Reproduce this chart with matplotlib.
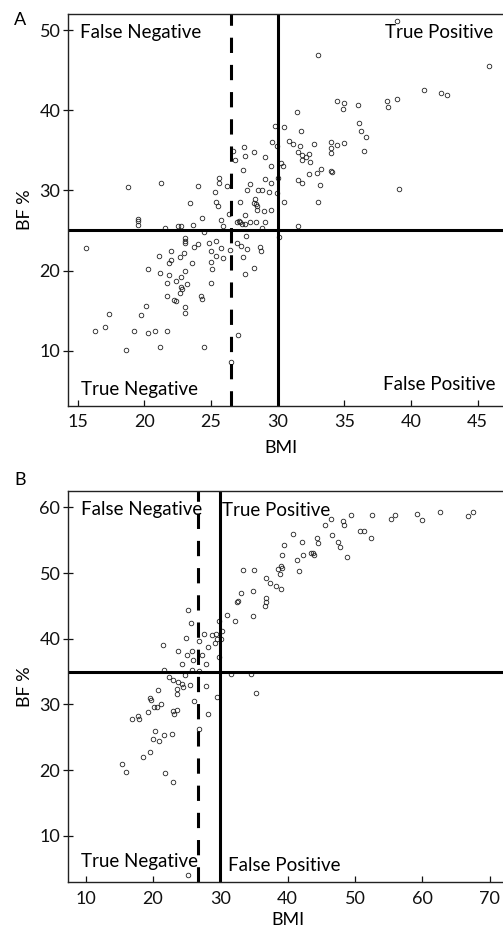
import numpy as np
import matplotlib
matplotlib.use("Agg")
import matplotlib.pyplot as plt

plt.rcParams["font.family"] = ["Lato", "DejaVu Sans"]

# Panel A (BMI vs BF %)
bmi_a = [18.75, 21.25, 24.05, 23.43, 24.35, 25.3, 25.63, 25.63, 26.18, 25.38, 25.55, 26.35, 25.75, 25.88,
         26.63, 26.78, 27.48, 27.55, 28.2, 27.38, 27.95, 27.73, 29.08, 29.55, 29.83, 30.45, 29.5, 29.05,
         29.48, 30.03, 28.5, 28.85, 29.35, 29.98, 29.93, 27.18, 28.28, 28.35, 28.43, 28.2, 28.48, 28.98,
         29.48, 27.53, 30.45, 30.23, 30.38, 31.43, 31.75, 30.83, 31.13, 31.55, 31.7, 31.85, 31.8, 32.13,
         32.38, 32.4, 32.73, 31.53, 31.83, 32.38, 32.95, 33.25, 33.15, 33.05, 33.05, 34.43, 35.0, 34.88,
         34.0, 34.0, 34.0, 34.48, 34.98, 34.0, 34.05, 36.05, 36.13, 36.23, 36.65, 36.45, 38.2, 38.3, 38.93,
         38.93, 39.13, 40.95, 42.25, 42.68, 45.88,
         19.5, 19.5, 19.5, 21.55, 22.53, 22.75, 23.68, 26.93, 27.08, 27.18, 27.33, 27.55, 27.93, 28.38,
         29.05, 28.8, 31.55, 24.48, 30.08,
         15.6, 20.25, 21.08, 21.18, 21.98, 21.98, 21.88, 21.68, 21.85, 21.73, 22.68, 22.95, 22.38, 22.75,
         23.03, 23.03, 23.08, 23.03, 23.18, 22.73, 22.85, 22.68, 22.25, 22.35, 23.05, 23.05, 23.75, 23.55,
         24.03, 24.83, 25.35, 24.98, 25.38, 24.98, 25.08, 24.98, 25.73, 25.88, 24.28, 24.33, 24.45, 21.18,
         18.65, 16.3, 17.08, 17.33, 19.25, 19.78, 20.13, 20.25, 20.78, 21.68, 26.48, 27.05, 26.93, 27.23,
         27.68, 27.63, 27.43, 27.55, 28.25, 28.65, 28.78, 26.43]
bf_a = [30.4, 30.9, 30.6, 28.4, 26.6, 29.8, 31.5, 30.9, 30.6, 28.5, 28.05, 27.1, 26.25, 25.55,
        34.95, 33.8, 35.4, 34.3, 34.8, 32.5, 30.75, 30.1, 34.2, 36.1, 38.0, 37.95, 33.1, 31.45,
        30.95, 31.55, 30.05, 30.1, 29.8, 29.7, 35.6, 28.5, 28.9, 28.3, 28.0, 28.4, 27.5, 27.4,
        27.55, 26.9, 28.5, 33.4, 33.1, 39.8, 37.35, 36.15, 35.85, 34.8, 35.6, 34.4, 33.75, 34.2,
        34.5, 33.6, 35.8, 31.3, 30.95, 32.1, 32.2, 32.7, 30.7, 28.6, 46.9, 41.2, 40.9, 40.2,
        36.0, 35.3, 34.7, 35.7, 35.9, 32.45, 32.25, 40.7, 38.35, 37.45, 36.6, 34.95, 41.15, 40.45, 41.35,
        51.15, 30.15, 42.5, 42.1, 41.9, 45.55,
        26.4, 26.2, 25.65, 25.35, 25.5, 25.5, 25.7, 26.1, 26.2, 26.0, 25.85, 25.85, 26.0, 26.1,
        26.0, 25.35, 25.5, 24.85, 24.2,
        22.83, 20.2, 21.8, 19.7, 22.45, 21.3, 20.9, 18.5, 19.5, 16.85, 21.65, 22.15, 18.7, 19.25,
        20.0, 24.0, 23.65, 23.4, 18.35, 18.0, 17.7, 17.25, 16.35, 16.2, 15.45, 14.75, 22.9, 21.0,
        23.3, 23.4, 23.75, 22.5, 21.8, 21.1, 20.2, 18.4, 22.85, 21.55, 16.85, 16.5, 10.5, 10.5,
        10.15, 12.4, 13.0, 14.6, 12.4, 14.4, 15.55, 12.2, 12.4, 12.5, 8.55, 12.0, 23.5, 23.1,
        22.75, 24.25, 21.75, 19.6, 20.35, 22.9, 22.5, 22.6]

# Panel B (BMI vs BF %)
bmi_b = [66.8, 67.6, 62.6, 59.2, 59.95, 55.35, 56.0, 52.6, 49.45, 48.2, 48.4, 46.4, 45.5, 46.6,
         50.8, 51.4, 52.4, 47.45, 47.8, 48.8, 40.8, 44.35, 44.45, 42.1, 42.25, 43.45, 43.85, 43.75,
         39.4, 39.2, 41.4, 41.65, 39.0, 39.15, 38.55, 38.8, 36.75, 37.4, 38.2, 39.05, 33.35, 35.0,
         34.8, 33.05, 32.7, 32.55, 36.75, 36.75, 36.65, 34.9, 31.0, 32.25, 29.8, 30.2, 30.15, 29.35,
         29.45, 28.8, 29.2, 27.6, 28.1, 26.85, 25.2, 25.65, 24.85, 21.45, 23.7, 25.75, 25.0, 26.0,
         24.25, 27.35, 27.8, 29.75, 25.75, 26.8, 21.7, 24.8, 31.55, 34.6, 22.4, 23.0, 23.65, 24.3,
         25.5, 27.8, 20.8, 23.55, 24.4, 23.6, 26.1, 29.5, 35.3, 19.55, 19.65, 20.2, 20.55, 21.25,
         19.2, 22.9, 23.1, 23.5, 28.15, 16.9, 17.75, 17.95, 26.85, 20.25, 20.0, 20.85, 21.6, 22.75,
         19.55, 18.5, 15.45, 15.95, 21.8, 22.95, 25.2]
bf_b = [58.7, 59.3, 59.3, 59.0, 58.1, 58.2, 58.8, 58.8, 58.8, 57.9, 57.25, 58.3, 57.35, 55.8,
        56.4, 56.4, 55.4, 54.75, 54.0, 52.4, 56.0, 55.4, 54.6, 54.75, 52.8, 53.0, 52.7, 53.1,
        54.25, 52.8, 52.0, 50.3, 51.1, 50.8, 50.6, 49.8, 49.3, 48.5, 48.0, 47.6, 50.45, 50.5,
        47.3, 46.9, 45.75, 45.6, 46.2, 45.55, 45.0, 43.45, 43.6, 42.7, 42.7, 41.1, 39.95, 40.65,
        39.9, 40.55, 39.4, 40.65, 38.8, 39.7, 44.3, 42.45, 40.05, 39.0, 38.1, 38.1, 37.55, 36.8,
        36.2, 37.45, 36.2, 37.2, 35.3, 35.1, 35.25, 34.5, 34.65, 34.55, 34.15, 33.65, 33.35, 33.15,
        33.0, 32.75, 32.2, 32.4, 32.6, 31.55, 30.55, 31.05, 31.7, 31.0, 30.65, 29.55, 29.65, 30.0,
        28.9, 29.05, 28.5, 29.2, 28.5, 27.7, 28.25, 27.8, 26.2, 25.95, 24.7, 24.45, 25.3, 25.55,
        22.8, 22.0, 20.85, 19.7, 19.55, 18.1, 3.95]

bf_cut = [25, 35]
bmi_cut = 30
bmi_dash = [26.5, 26.7]

panels = [
    dict(x=bmi_a, y=bf_a, xlim=(14.27, 46.9), ylim=(3.1, 52.0), xt=[15, 20, 25, 30, 35, 40, 45],
         yt=[10, 20, 30, 40, 50], rect=[0.1352, 0.5634, 0.8648, 0.4215], letter="A", ly=1 - 20 / 930,
         xlab=(0.49, -0.107), labels=[("False Negative", 0.027, 0.952, "left"), ("True Positive", 0.977, 0.952, "right"),
                                      ("True Negative", 0.031, 0.041, "left"), ("False Positive", 0.982, 0.054, "right")]),
    dict(x=bmi_b, y=bf_b, xlim=(7.37, 72.0), ylim=(2.9, 62.5), xt=[10, 20, 30, 40, 50, 60, 70],
         yt=[10, 20, 30, 40, 50, 60], rect=[0.1352, 0.0513, 0.8648, 0.4208], letter="B", ly=1 - 480 / 930,
         xlab=(0.506, -0.096), labels=[("False Negative", 0.030, 0.953, "left"), ("True Positive", 0.355, 0.951, "left"),
                                       ("True Negative", 0.030, 0.053, "left"), ("False Positive", 0.367, 0.044, "left")]),
]

fig = plt.figure(figsize=(5.03, 9.30), dpi=100)

for i, p in enumerate(panels):
    ax = fig.add_axes(p["rect"])
    ax.plot(p["x"], p["y"], "o", ms=3.3, mfc="none", mec="#222222", mew=0.6, clip_on=False)
    ax.axhline(bf_cut[i], color="black", lw=2.2)
    ax.axvline(bmi_cut, color="black", lw=2.2)
    ax.axvline(bmi_dash[i], color="black", lw=2.2, dashes=(5, 3.9))
    ax.set_xlim(p["xlim"])
    ax.set_ylim(p["ylim"])
    ax.set_xticks(p["xt"])
    ax.set_yticks(p["yt"])
    ax.spines["right"].set_visible(False)
    for s in ["left", "top", "bottom"]:
        ax.spines[s].set_linewidth(1.0)
        ax.spines[s].set_color("#222222")
    ax.tick_params(axis="x", direction="in", length=4.3, width=0.9, pad=6, labelsize=13, colors="#111111")
    ax.tick_params(axis="y", direction="inout", length=7, width=0.9, pad=2, labelsize=13, colors="#111111")
    ax.set_xlabel("BMI", fontsize=13)
    ax.set_ylabel("BF %", fontsize=13)
    ax.xaxis.set_label_coords(*p["xlab"])
    ax.xaxis.label.set_va("center")
    ax.yaxis.set_label_coords(-0.099, 0.5)
    ax.yaxis.label.set_va("center")
    for txt, tx, ty, ha in p["labels"]:
        ax.text(tx, ty, txt, transform=ax.transAxes, ha=ha, va="center", fontsize=13.5)
    fig.text(20 / 503, p["ly"], p["letter"], ha="center", va="center", fontsize=13)

fig.savefig("out.png", dpi=100)
